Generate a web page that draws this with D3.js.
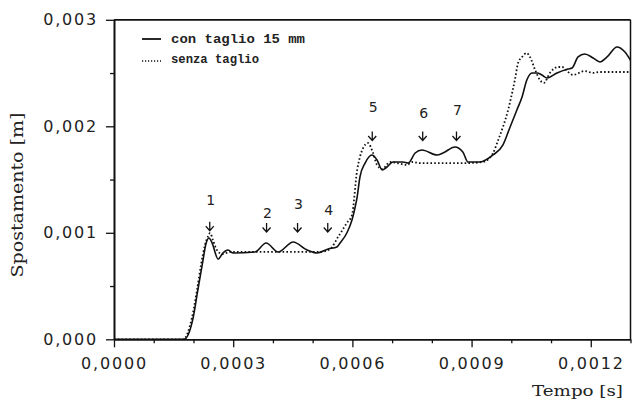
<!DOCTYPE html>
<html>
<head>
<meta charset="utf-8">
<script src="https://cdn.jsdelivr.net/npm/d3@7"></script>
<style>
  body { margin: 0; background: #fff; }
  svg { display: block; }
</style>
</head>
<body>
<script>
// con taglio 15 mm (linea continua)
var tempoCon = [0, 0.000176, 0.000199, 0.000211, 0.000222, 0.000232, 0.000239, 0.000247, 0.000262,
    0.000274, 0.000287, 0.000300, 0.000355, 0.000383, 0.000413, 0.000451, 0.000486, 0.000511,
    0.000539, 0.000561, 0.000569, 0.000586, 0.000599, 0.000607, 0.000612, 0.000619, 0.000632,
    0.000649, 0.000662, 0.000675, 0.000687, 0.000702, 0.000727, 0.000740, 0.000758, 0.000775,
    0.000813, 0.000828, 0.000858, 0.000878, 0.000891, 0.000921, 0.000954, 0.000979, 0.000997,
    0.001014, 0.001027, 0.001039, 0.001052, 0.001065, 0.001077, 0.001090, 0.001115, 0.001143,
    0.001153, 0.001168, 0.001185, 0.001206, 0.001223, 0.001241, 0.001266, 0.001286, 0.001304];
var spostCon = [0, 0, 0.000200, 0.000463, 0.000698, 0.000904, 0.000951, 0.000904, 0.000754,
    0.000810, 0.000838, 0.000810, 0.000820, 0.000904, 0.000820, 0.000914, 0.000838, 0.000810,
    0.000848, 0.000867, 0.000904, 0.000998, 0.001120, 0.001242, 0.001336, 0.001524, 0.001655,
    0.001731, 0.001684, 0.001590, 0.001618, 0.001665, 0.001665, 0.001655, 0.001749, 0.001778,
    0.001731, 0.001749, 0.001806, 0.001759, 0.001665, 0.001665, 0.001731, 0.001825, 0.001994,
    0.002153, 0.002275, 0.002435, 0.002501, 0.002501, 0.002482, 0.002454, 0.002501, 0.002538,
    0.002548, 0.002651, 0.002679, 0.002641, 0.002604, 0.002651, 0.002745, 0.002698, 0.002594];

// senza taglio (linea punteggiata)
var tempoSenza = [0, 0.000174, 0.000196, 0.000209, 0.000219, 0.000229, 0.000237, 0.000242, 0.000249,
    0.000259, 0.000272, 0.000292, 0.000519, 0.000544, 0.000564, 0.000586, 0.000599, 0.000612,
    0.000619, 0.000627, 0.000639, 0.000652, 0.000662, 0.000675, 0.000695, 0.000712, 0.000737,
    0.000750, 0.000770, 0.000891, 0.000929, 0.000954, 0.000967, 0.000979, 0.000992, 0.001002,
    0.001009, 0.001017, 0.001027, 0.001039, 0.001047, 0.001060, 0.001072, 0.001082, 0.001097,
    0.001118, 0.001128, 0.001143, 0.001155, 0.001185, 0.001206, 0.001223, 0.001300];
var spostSenza = [0, 0, 0.000200, 0.000463, 0.000698, 0.000885, 0.000970, 0.000998, 0.000932,
    0.000838, 0.000801, 0.000820, 0.000820, 0.000848, 0.000961, 0.001092, 0.001167, 0.001590,
    0.001712, 0.001796, 0.001843, 0.001749, 0.001637, 0.001599, 0.001665, 0.001655, 0.001637,
    0.001665, 0.001655, 0.001655, 0.001665, 0.001749, 0.001871, 0.001994, 0.002153, 0.002313,
    0.002435, 0.002594, 0.002651, 0.002688, 0.002651, 0.002529, 0.002435, 0.002407, 0.002501,
    0.002557, 0.002557, 0.002510, 0.002482, 0.002519, 0.002501, 0.002510, 0.002510];

// frecce numerate
var markerLabel = ["1", "2", "3", "4", "5", "6", "7"];
var markerTempo = [0.000241, 0.000384, 0.000462, 0.000538, 0.000650, 0.000777, 0.000862];
var markerPunta = [0.001020, 0.001008, 0.001008, 0.001008, 0.001867, 0.001867, 0.001867];
var markerQuota = [0.001261, 0.001139, 0.001224, 0.001167, 0.002134, 0.002078, 0.002106];

var xTicks = [0, 0.0003, 0.0006, 0.0009, 0.0012];
var yTicks = [0, 0.001, 0.002, 0.003];

var legendLabels = ["con taglio 15 mm", "senza taglio"];

var w = 632;
var h = 401;

var svg = d3.select("body")
    .append("svg")
    .attr("width", w)
    .attr("height", h);

var xScale = d3.scaleLinear()
    .domain([0, 0.0013])
    .range([114, 630.5]);

var yScale = d3.scaleLinear()
    .domain([0, 0.003])
    .range([339.3, 19.8]);

var it = d3.formatLocale({ decimal: ",", thousands: ".", grouping: [3], currency: ["", "€"] });
var fmtX = it.format(".4f");
var fmtY = it.format(".3f");

var minorX = d3.range(1, 14).map(function(i) { return i / 10000; })
    .filter(function(d, i) { return (i + 1) % 3 !== 0; });
var minorY = [0.0005, 0.0015, 0.0025];

// cornice
svg.append("line")
    .attr("x1", xScale(0)).attr("x2", xScale(0.0013))
    .attr("y1", yScale(0.003)).attr("y2", yScale(0.003))
    .attr("stroke", "#111").attr("stroke-width", 1.8);
svg.append("line")
    .attr("x1", xScale(0.0013)).attr("x2", xScale(0.0013))
    .attr("y1", yScale(0.003)).attr("y2", yScale(0))
    .attr("stroke", "#111").attr("stroke-width", 1.5);

var xAxis = d3.axisBottom(xScale)
    .tickValues(xTicks)
    .tickSize(8)
    .tickSizeOuter(0)
    .tickPadding(10)
    .tickFormat(fmtX);

var yAxis = d3.axisLeft(yScale)
    .tickValues(yTicks)
    .tickSize(8)
    .tickSizeOuter(0)
    .tickPadding(8)
    .tickFormat(fmtY);

var gx = svg.append("g")
    .attr("transform", "translate(0," + yScale(0) + ")")
    .call(xAxis);
svg.append("g")
    .attr("transform", "translate(0," + yScale(0) + ")")
    .call(d3.axisBottom(xScale).tickValues(minorX).tickSize(4).tickSizeOuter(0).tickFormat(""));

var gy = svg.append("g")
    .attr("transform", "translate(" + xScale(0) + ",0)")
    .call(yAxis);
svg.append("g")
    .attr("transform", "translate(" + xScale(0) + ",0)")
    .call(d3.axisLeft(yScale).tickValues(minorY).tickSize(4).tickSizeOuter(0).tickFormat(""));

svg.selectAll(".domain").attr("stroke", "#111").attr("stroke-width", 1.6);
svg.selectAll(".tick line").attr("stroke", "#111").attr("stroke-width", 1.3);
svg.selectAll(".tick text")
    .attr("font-family", "DejaVu Sans, sans-serif")
    .attr("font-size", "16px")
    .attr("letter-spacing", "1.8px")
    .attr("fill", "#222");

// titoli assi
svg.append("text")
    .attr("transform", "translate(23,195) rotate(-90)")
    .attr("text-anchor", "middle")
    .attr("font-family", "DejaVu Serif, serif")
    .attr("font-size", "16px")
    .attr("textLength", 165)
    .attr("lengthAdjust", "spacingAndGlyphs")
    .attr("fill", "#222")
    .text("Spostamento [m]");

svg.append("text")
    .attr("x", 532)
    .attr("y", 396)
    .attr("font-family", "DejaVu Serif, serif")
    .attr("font-size", "15px")
    .attr("textLength", 91)
    .attr("lengthAdjust", "spacingAndGlyphs")
    .attr("fill", "#222")
    .text("Tempo [s]");

// curve
var line = d3.line()
    .x(function(d) { return xScale(d[0]); })
    .y(function(d) { return yScale(d[1]); })
    .curve(d3.curveMonotoneX);

var datiCon = tempoCon.map(function(t, i) { return [t, spostCon[i]]; });
var datiSenza = tempoSenza.map(function(t, i) { return [t, spostSenza[i]]; });

svg.append("clipPath").attr("id", "clip")
    .append("rect")
    .attr("x", xScale(0)).attr("y", yScale(0.003))
    .attr("width", xScale(0.0013) - xScale(0))
    .attr("height", yScale(0) - yScale(0.003));

svg.append("path")
    .datum(datiSenza)
    .attr("clip-path", "url(#clip)")
    .attr("fill", "none")
    .attr("stroke", "#111")
    .attr("stroke-width", 1.8)
    .attr("stroke-dasharray", "1.6,2.2")
    .attr("d", line);

svg.append("path")
    .datum(datiCon)
    .attr("clip-path", "url(#clip)")
    .attr("fill", "none")
    .attr("stroke", "#111")
    .attr("stroke-width", 1.6)
    .attr("d", line);

// frecce
var markers = svg.selectAll("g.marker")
    .data(markerLabel)
    .enter()
    .append("g")
    .attr("class", "marker");

markers.append("path")
    .attr("d", function(d, i) {
        var x = xScale(markerTempo[i]);
        var y = yScale(markerPunta[i]);
        return "M" + x + "," + (y - 9) + "L" + x + "," + y +
            "M" + (x - 4) + "," + (y - 4.5) + "L" + x + "," + y + "L" + (x + 4) + "," + (y - 4.5);
    })
    .attr("fill", "none")
    .attr("stroke", "#111")
    .attr("stroke-width", 1.3);

markers.append("text")
    .attr("x", function(d, i) { return xScale(markerTempo[i]) + 1; })
    .attr("y", function(d, i) { return yScale(markerQuota[i]); })
    .attr("text-anchor", "middle")
    .attr("font-family", "DejaVu Sans, sans-serif")
    .attr("font-size", "14px")
    .attr("fill", "#222")
    .text(function(d) { return d; });

// legenda
var legend = svg.append("g");
legend.append("line")
    .attr("x1", 142).attr("x2", 161).attr("y1", 39).attr("y2", 39)
    .attr("stroke", "#111").attr("stroke-width", 1.8);
legend.append("line")
    .attr("x1", 142).attr("x2", 161).attr("y1", 61).attr("y2", 61)
    .attr("stroke", "#111").attr("stroke-width", 1.5)
    .attr("stroke-dasharray", "1.2,1.8");

legend.selectAll("text")
    .data(legendLabels)
    .enter()
    .append("text")
    .attr("x", 171)
    .attr("y", function(d, i) { return 43 + i * 20; })
    .attr("font-family", "Liberation Mono, monospace")
    .attr("font-weight", "bold")
    .attr("font-size", "12px")
    .attr("textLength", function(d, i) { return i === 0 ? 134 : 88; })
    .attr("lengthAdjust", "spacingAndGlyphs")
    .attr("fill", "#222")
    .text(function(d) { return d; });
</script>
</body>
</html>
